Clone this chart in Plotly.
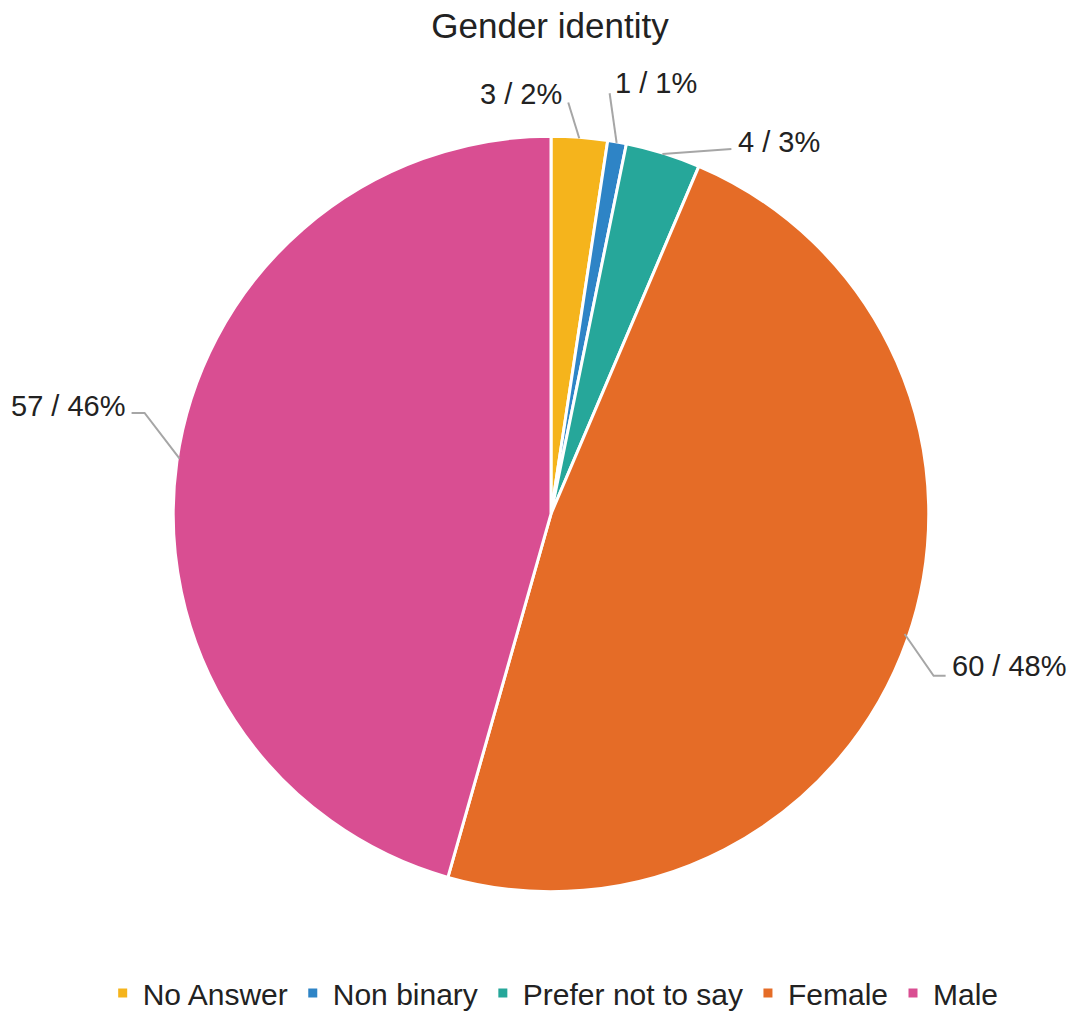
import math
import plotly.graph_objects as go

# ---- data ----
categories = ["No Answer", "Non binary", "Prefer not to say", "Female", "Male"]
counts = [3, 1, 4, 60, 57]
colors = ["#F5B41C", "#2E84C6", "#26A79A", "#E56C27", "#D94E92"]

# ---- layout constants (pixels) ----
W, H = 1070, 1019
CX, CY, R = 551, 513, 375
DOM_R, DOM_CY = 380, 517
# leader geometry per slice: (elbow offset or None, end offset, text side, text offset from end)
leaders = [
    (None, (-11, -36), "right", (-4, -9)),
    (None, (-7, -50), "left", (3, -10)),
    (None, (69, -5), "left", (5, -7)),
    ((29, 42), (41, 42), "left", (4, -10)),
    ((-35, -46), (-48, -46), "right", (-5, -7)),
]

def px(x):
    return x / W

def py(y):
    return 1 - y / H

total = sum(counts)
fig = go.Figure(go.Pie(
    labels=categories,
    values=counts,
    sort=False,
    direction="clockwise",
    rotation=0,
    marker=dict(colors=colors, line=dict(color="white", width=3)),
    textinfo="none",
    hoverinfo="label+value+percent",
    domain=dict(x=[px(CX - DOM_R), px(CX + DOM_R)], y=[py(DOM_CY + DOM_R), py(DOM_CY - DOM_R)]),
))

shapes = []
annotations = []
cum = 0
for cat, v, (elbow, end, side, toff) in zip(categories, counts, leaders):
    mid = (cum + v / 2) / total * 2 * math.pi
    cum += v
    ax = CX + R * math.sin(mid)
    ay = CY - R * math.cos(mid)
    pts = [(ax, ay)]
    if elbow is not None:
        pts.append((ax + elbow[0], ay + elbow[1]))
    ex, ey = ax + end[0], ay + end[1]
    pts.append((ex, ey))
    path = "M " + " L ".join(f"{px(x):.5f},{py(y):.5f}" for x, y in pts)
    shapes.append(dict(type="path", path=path, xref="paper", yref="paper",
                       line=dict(color="#A6A6A6", width=2)))
    pct = round(v / total * 100)
    annotations.append(dict(
        text=f"{v} / {pct}%", x=px(ex + toff[0]), y=py(ey + toff[1]),
        xref="paper", yref="paper", xanchor=side, yanchor="middle",
        showarrow=False, font=dict(size=29, color="#222222", family="Liberation Sans, Arial, sans-serif"),
    ))

fig.update_layout(
    width=W, height=H,
    margin=dict(l=0, r=0, t=0, b=0),
    paper_bgcolor="white",
    plot_bgcolor="white",
    font=dict(family="Liberation Sans, Arial, sans-serif", color="#222222"),
    title=dict(text="Gender identity", x=0.514, xanchor="center",
               y=py(26), yanchor="middle", yref="container",
               font=dict(size=35, color="#222222")),
    showlegend=True,
    legend=dict(orientation="h", x=0.517, xanchor="center", y=py(999), yanchor="middle",
                font=dict(size=30, color="#222222"), itemwidth=30, traceorder="normal"),
    shapes=shapes,
    annotations=annotations,
)

fig.write_html("out.html")
